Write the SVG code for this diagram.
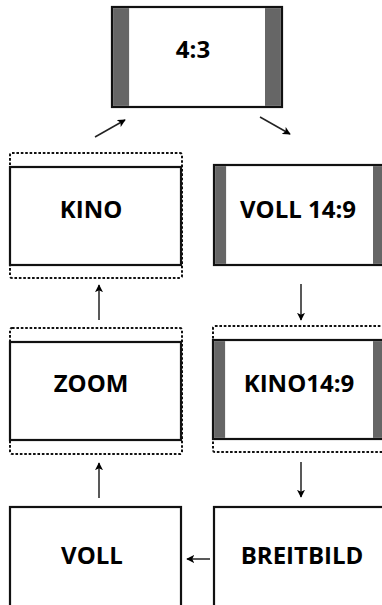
<svg xmlns="http://www.w3.org/2000/svg" width="382" height="605" viewBox="0 0 382 605">
<style>
.box{fill:#fff;stroke:#111;stroke-width:2.2}
.bar{fill:#666}
.dot{fill:none;stroke:#111;stroke-width:2;stroke-dasharray:2.6 1.8}
.lbl{font-family:"Open Sans","Noto Sans",sans-serif;font-weight:bold;font-size:24px;fill:#000;text-anchor:middle}
.conn{stroke:#222;stroke-width:1.5;fill:none;marker-end:url(#ah)}
</style>
<defs>
<marker id="ah" viewBox="0 0 10 10" refX="9" refY="5" markerWidth="8" markerHeight="8" markerUnits="userSpaceOnUse" orient="auto">
<path d="M0,0 L10,5 L0,10 L2.5,5 Z" fill="#000"/>
</marker>
</defs>
<rect width="382" height="605" fill="#fff"/>
<g id="n43">
<rect class="box" x="112" y="7" width="170" height="100"/>
<rect class="bar" x="113.1" y="8.1" width="16" height="97.8"/>
<rect class="bar" x="265" y="8.1" width="15.9" height="97.8"/>
<text class="lbl" x="193" y="58">4:3</text>
</g>
<g id="kino">
<rect class="dot" x="10" y="153" width="172" height="125" rx="2"/>
<rect class="box" x="10" y="167" width="171" height="98"/>
<text class="lbl" x="91" y="218">KINO</text>
</g>
<g id="voll149">
<rect class="box" x="214" y="165" width="172" height="100"/>
<rect class="bar" x="215.1" y="166.1" width="11" height="97.8"/>
<rect class="bar" x="373" y="166.1" width="12" height="97.8"/>
<text class="lbl" x="298" y="218">VOLL 14:9</text>
</g>
<g id="zoom">
<rect class="dot" x="10" y="328" width="172" height="126" rx="2"/>
<rect class="box" x="10" y="342" width="171" height="98"/>
<text class="lbl" x="91" y="392">ZOOM</text>
</g>
<g id="kino149">
<rect class="dot" x="213" y="326" width="180" height="126" rx="2"/>
<rect class="box" x="213" y="340" width="173" height="99"/>
<rect class="bar" x="214.1" y="341.1" width="11" height="96.8"/>
<rect class="bar" x="373" y="341.1" width="12" height="96.8"/>
<text class="lbl" x="299" y="392">KINO14:9</text>
</g>
<g id="voll">
<rect class="box" x="10" y="507" width="171" height="110"/>
<text class="lbl" x="92" y="564">VOLL</text>
</g>
<g id="breitbild">
<rect class="box" x="214" y="507" width="180" height="110"/>
<text class="lbl" x="302" y="564">BREITBILD</text>
</g>
<g id="connectors">
<line class="conn" x1="95" y1="137" x2="125" y2="120"/>
<line class="conn" x1="260" y1="117" x2="290" y2="134"/>
<line class="conn" x1="301" y1="284" x2="301" y2="320"/>
<line class="conn" x1="301" y1="462" x2="301" y2="497"/>
<line class="conn" x1="210" y1="559" x2="187" y2="559"/>
<line class="conn" x1="99" y1="498" x2="99" y2="463"/>
<line class="conn" x1="99" y1="320" x2="99" y2="285"/>
</g>
</svg>
